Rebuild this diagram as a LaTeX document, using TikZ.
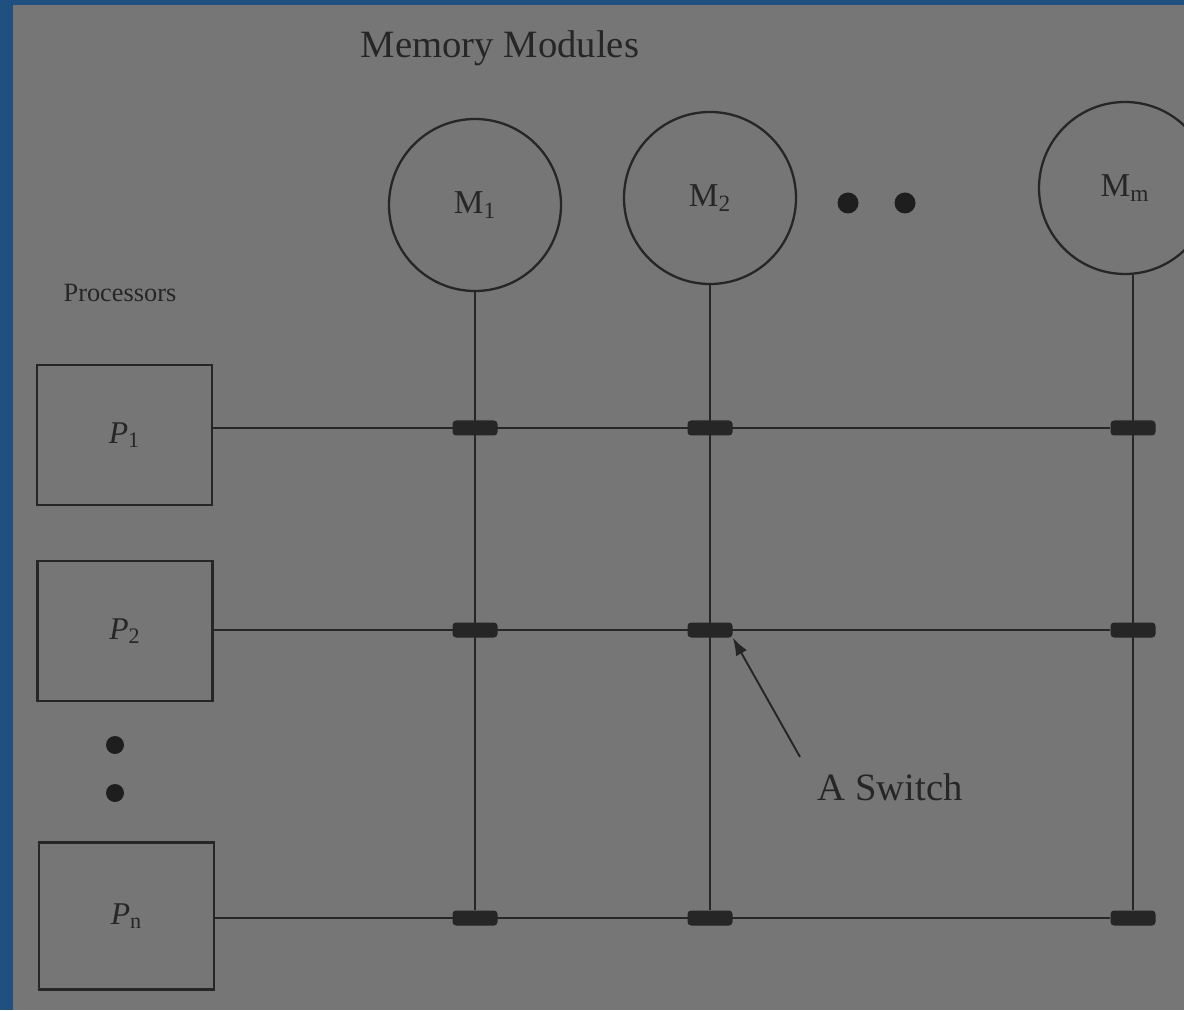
\documentclass[tikz,border=0pt]{standalone}
\usepackage{fontspec}
\setmainfont{Liberation Serif}
\usetikzlibrary{arrows.meta}
\definecolor{frameblue}{HTML}{1F5080}
\definecolor{paper}{HTML}{767676}
\definecolor{ink}{HTML}{262626}
\begin{document}
\begin{tikzpicture}[
    mem/.style={circle, draw=ink, line width=1.3pt, minimum size=3.44cm, text=ink, font=\fontsize{19}{21}\selectfont},
    proc/.style={rectangle, draw=ink, line width=1.5pt, minimum width=3.5cm, minimum height=2.8cm, text=ink, font=\fontsize{18}{20}\selectfont},
    switch/.style={rectangle, rounded corners=2pt, fill=ink, minimum width=0.9cm, minimum height=0.3cm, inner sep=0pt},
    wire/.style={draw=ink, line width=1.4pt},
    lbl/.style={text=ink, font=\fontsize{22}{24}\selectfont},
    dot/.style={circle, fill=ink!80!black, inner sep=0pt, minimum size=0.42cm}
]
\fill[frameblue] (0,0) rectangle (23.68,20.2);
\fill[paper] (0.26,0) rectangle (23.68,20.1);
\clip (0,0) rectangle (23.68,20.2);

\node[lbl] (title) at (10.0,19.24) {Memory Modules};
\node[text=ink, font=\fontsize{15}{17}\selectfont] (plabel) at (2.4,14.34) {Processors};

\node[mem] (M1) at (9.5,16.1) {M\textsubscript{1}};
\node[mem] (M2) at (14.2,16.24) {M\textsubscript{2}};
\node[mem] (Mm) at (22.5,16.44) {M\textsubscript{m}};
\node[dot] (d1) at (16.96,16.14) {};
\node[dot] (d2) at (18.1,16.14) {};

\node[proc] (P1) at (2.49,11.5) {\textit{P}\textsubscript{1}};
\node[proc] (P2) at (2.5,7.58) {\textit{P}\textsubscript{2}};
\node[proc, minimum height=2.94cm] (Pn) at (2.53,1.88) {\textit{P}\textsubscript{n}};
\node[dot, minimum size=0.36cm] (d3) at (2.3,5.3) {};
\node[dot, minimum size=0.36cm] (d4) at (2.3,4.34) {};

% switches at the crossings
\foreach \r/\y in {1/11.64, 2/7.6, n/1.84}
  \foreach \c/\x in {1/9.5, 2/14.2, m/22.66}
    \node[switch] (s\r\c) at (\x,\y) {};

\draw[wire] (P1.east |- s11) -- (s1m);
\draw[wire] (P2.east |- s21) -- (s2m);
\draw[wire] (Pn.east |- sn1) -- (snm);
\draw[wire] (M1.south) -- (sn1);
\draw[wire] (M2.south) -- (sn2);
\draw[wire] (Mm.south -| snm) -- (snm);

\node[lbl] (swlabel) at (17.8,4.46) {A Switch};
\coordinate (tail) at (16.0,5.06);
\draw[wire, line width=1.1pt, -{Latex[length=0.35cm,width=0.25cm]}] (tail) -- (s22.south east);
\end{tikzpicture}
\end{document}
